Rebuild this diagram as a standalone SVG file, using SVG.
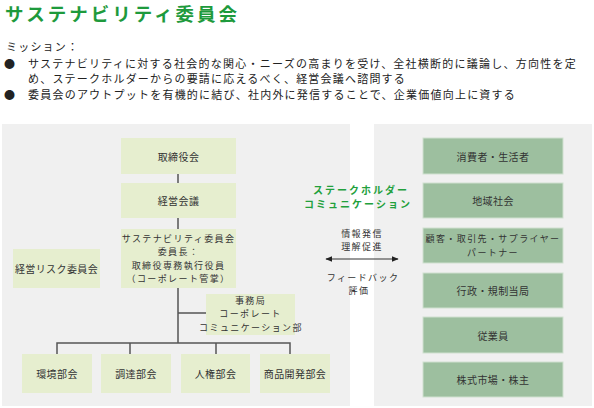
<svg xmlns="http://www.w3.org/2000/svg" width="594" height="408" viewBox="0 0 594 408">
<defs>
<style>
text{font-family:"Noto Sans CJK JP","Noto Sans CJK SC",sans-serif;fill:#333;}
.title{font-size:18.5px;font-weight:bold;fill:#1e9a3c;letter-spacing:3px;}
.m{font-size:11px;letter-spacing:1.2px;fill:#222;}
.b{font-size:10px;letter-spacing:0.4px;text-anchor:middle;dominant-baseline:central;}
.s{font-size:9px;letter-spacing:1.4px;text-anchor:middle;dominant-baseline:central;}
.g{font-size:10px;font-weight:bold;fill:#22a03c;letter-spacing:2px;text-anchor:middle;dominant-baseline:central;}
.lb{fill:#e6eecf;}
.rb{fill:#9dbf9f;stroke:#cfe0cf;stroke-width:1;}
.ln{stroke:#555;stroke-width:1.5;fill:none;}
.ar{stroke:#333;stroke-width:1.2;fill:none;}
</style>
<marker id="ah" viewBox="0 0 10 10" refX="9" refY="5" markerWidth="7" markerHeight="7" orient="auto-start-reverse" markerUnits="userSpaceOnUse">
<path d="M0,1 L10,5 L0,9 z" fill="#222"/>
</marker>
</defs>
<rect width="594" height="408" fill="#fff"/>
<text class="title" x="5" y="21">サステナビリティ委員会</text>
<text class="m" x="6" y="51">ミッション：</text>
<text class="m" x="4" y="68">●</text>
<text class="m" x="28" y="68" textLength="549" lengthAdjust="spacing">サステナビリティに対する社会的な関心・ニーズの高まりを受け、全社横断的に議論し、方向性を定</text>
<text class="m" x="28" y="83" textLength="378" lengthAdjust="spacing">め、ステークホルダーからの要請に応えるべく、経営会議へ諮問する</text>
<text class="m" x="4" y="99">●</text>
<text class="m" x="28" y="99" textLength="488" lengthAdjust="spacing">委員会のアウトプットを有機的に結び、社内外に発信することで、企業価値向上に資する</text>
<rect x="2" y="124" width="348" height="282" fill="#f0f0f0"/>
<rect x="374" y="124" width="218" height="282" fill="#f0f0f0"/>
<g id="connectors">
<line class="ln" x1="178" y1="174" x2="178" y2="183"/>
<line class="ln" x1="178" y1="218" x2="178" y2="229"/>
<line class="ln" x1="178" y1="288" x2="178" y2="343"/>
<line class="ln" x1="178" y1="313" x2="206" y2="313"/>
<path class="ln" d="M57,354 V343 H290 V354 M130,343 V354 M216,343 V354"/>
<line class="ar" x1="326" y1="259" x2="398" y2="259" marker-start="url(#ah)" marker-end="url(#ah)"/>
</g>
<g id="board"><rect class="lb" x="121" y="138" width="115" height="36"/><text class="b" x="178.5" y="156">取締役会</text></g>
<g id="mgmt"><rect class="lb" x="121" y="183" width="115" height="35"/><text class="b" x="178.5" y="200.5">経営会議</text></g>
<g id="committee"><rect class="lb" x="121" y="229" width="115" height="59"/>
<text class="s" x="178.5" y="238.7">サステナビリティ委員会</text>
<text class="s" x="178.5" y="251.9">委員長：</text>
<text class="s" x="178.5" y="265.1">取締役専務執行役員</text>
<text class="s" x="178.5" y="278.3">（コーポレート管掌）</text></g>
<g id="risk"><rect class="lb" x="13" y="249" width="87" height="39"/><text class="b" x="56.5" y="268.5">経営リスク委員会</text></g>
<g id="office"><rect class="lb" x="206" y="294" width="89" height="41"/>
<text class="s" x="250.5" y="300.6">事務局</text>
<text class="s" x="250.5" y="313.8">コーポレート</text>
<text class="s" x="251" y="327">コミュニケーション部</text></g>
<g id="env"><rect class="lb" x="22" y="354" width="70" height="39"/><text class="b" x="57" y="373.5">環境部会</text></g>
<g id="proc"><rect class="lb" x="101" y="354" width="70" height="39"/><text class="b" x="136" y="373.5">調達部会</text></g>
<g id="hr"><rect class="lb" x="181" y="354" width="69" height="39"/><text class="b" x="215.5" y="373.5">人権部会</text></g>
<g id="prod"><rect class="lb" x="260" y="354" width="70" height="39"/><text class="b" x="295" y="373.5">商品開発部会</text></g>
<g id="sc"><text class="g" x="361" y="189">ステークホルダー</text><text class="g" x="358" y="203.6">コミュニケーション</text></g>
<g id="lab1"><text class="s" x="362" y="233.5">情報発信</text><text class="s" x="362" y="246.7">理解促進</text></g>
<g id="lab2"><text class="s" x="363" y="277">フィードバック</text><text class="s" x="359" y="290.2">評価</text></g>
<g id="s1"><rect class="rb" x="423" y="138" width="140" height="36"/><text class="b" x="493" y="156">消費者・生活者</text></g>
<g id="s2"><rect class="rb" x="423" y="183" width="140" height="35"/><text class="b" x="493" y="200.5">地域社会</text></g>
<g id="s3"><rect class="rb" x="423" y="228" width="140" height="35"/><text class="s" x="493" y="238.9">顧客・取引先・サプライヤー</text><text class="s" x="493" y="252.1">パートナー</text></g>
<g id="s4"><rect class="rb" x="423" y="273" width="140" height="35"/><text class="b" x="493" y="290.5">行政・規制当局</text></g>
<g id="s5"><rect class="rb" x="423" y="317" width="140" height="36"/><text class="b" x="493" y="335">従業員</text></g>
<g id="s6"><rect class="rb" x="423" y="362" width="140" height="35"/><text class="b" x="493" y="379.5">株式市場・株主</text></g>
</svg>
